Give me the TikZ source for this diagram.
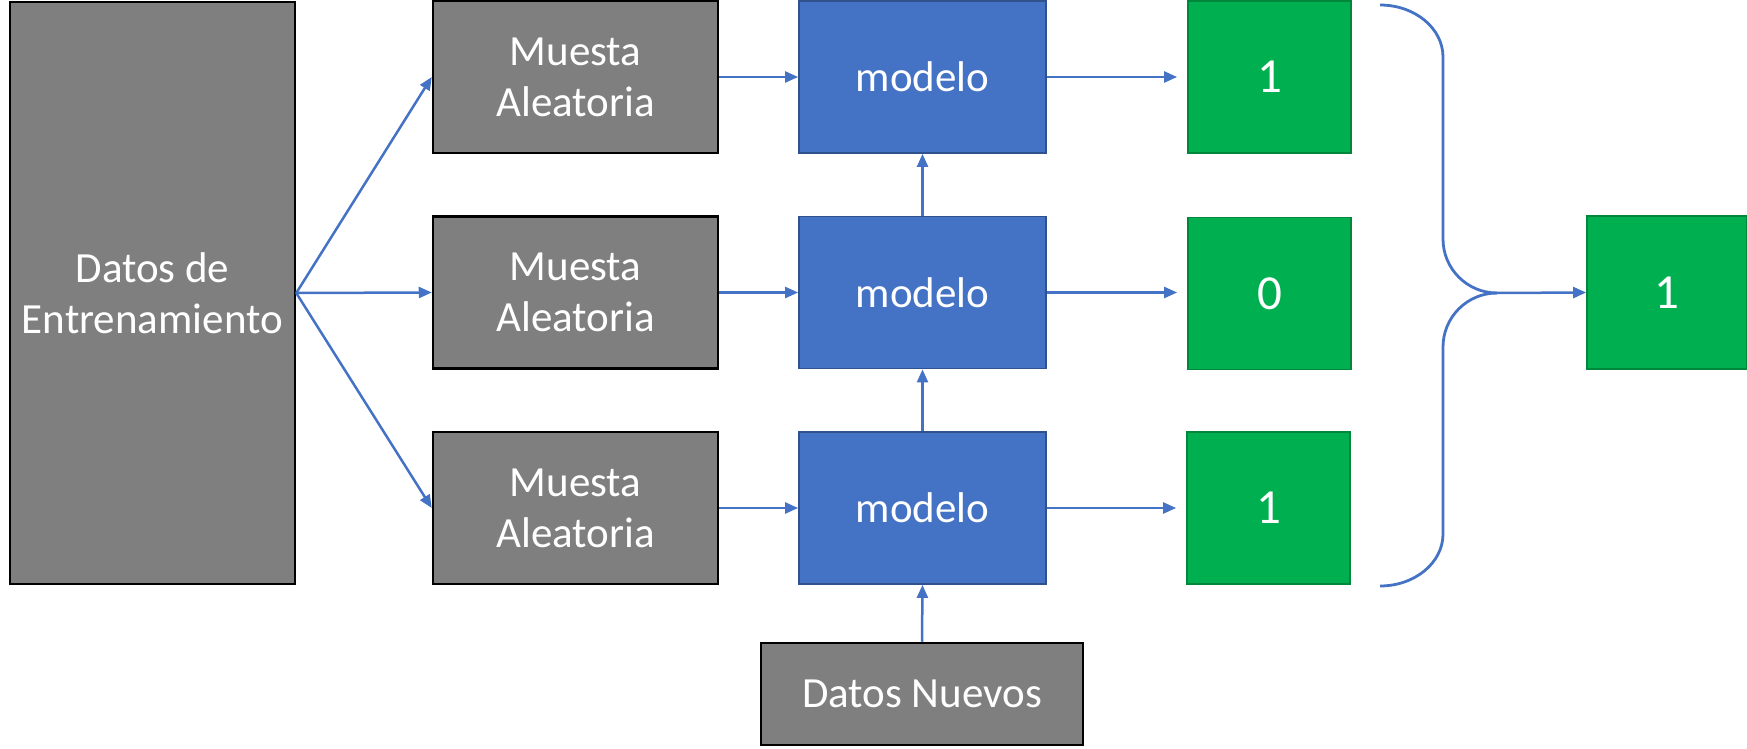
\documentclass[tikz,border=0pt]{standalone}
\usepackage{fontspec}
\setmainfont{Carlito}
\usetikzlibrary{arrows.meta}
\definecolor{grayfill}{HTML}{7F7F7F}
\definecolor{bluefill}{HTML}{4472C4}
\definecolor{blueline}{HTML}{2F528F}
\definecolor{greenfill}{HTML}{00B050}
\definecolor{greenline}{HTML}{00873C}
\definecolor{arrowc}{HTML}{4472C4}
\tikzset{
  x=1pt, y=1pt,
  graybox/.style={rectangle, fill=grayfill, draw=black, line width=2.5pt, inner sep=0pt,
    text=white, align=center, font=\fontsize{43}{51}\selectfont},
  bluebox/.style={rectangle, fill=bluefill, draw=blueline, line width=1.8pt, inner sep=0pt,
    text=white, align=center, font=\fontsize{43}{51}\selectfont,
    minimum width=247pt, minimum height=152pt},
  greenbox/.style={rectangle, fill=greenfill, draw=greenline, line width=1.8pt, inner sep=0pt,
    text=white, align=center, font=\fontsize{49}{58}\selectfont,
    minimum width=163pt, minimum height=152pt},
  muestabox/.style={graybox, minimum width=285pt, minimum height=152pt},
  conn/.style={draw=arrowc, line width=2.5pt, -{Triangle[length=13pt,width=11pt]}},
  bracepath/.style={draw=arrowc, line width=2.8pt},
}
\begin{document}
\begin{tikzpicture}
\useasboundingbox (0,0) rectangle (1747,748);
% training data
\node[graybox, minimum width=285pt, minimum height=582pt] (datos) at (152.5,455) {Datos de\\Entrenamiento};
% random samples
\node[muestabox] (m1) at (575.5,671) {Muesta\\Aleatoria};
\node[muestabox] (m2) at (575.5,455.5) {Muesta\\Aleatoria};
\node[muestabox] (m3) at (575.5,240) {Muesta\\Aleatoria};
% models
\node[bluebox] (mod1) at (922.5,671) {modelo};
\node[bluebox] (mod2) at (922.5,455.5) {modelo};
\node[bluebox] (mod3) at (922.5,240) {modelo};
% predictions
\node[greenbox] (g1) at (1269.5,671) {1};
\node[greenbox] (g2) at (1269.5,454.5) {0};
\node[greenbox] (g3) at (1268.5,240) {1};
% final
\node[greenbox, minimum width=160pt, minimum height=153pt] (fin) at (1667,455.5) {1};
% new data
\node[graybox, minimum width=322pt, minimum height=102pt] (nuevos) at (922,54) {Datos Nuevos};
% connectors
\draw[conn] (datos.east) -- (m1.west);
\draw[conn] (datos.east) -- (m2.west);
\draw[conn] (datos.east) -- (m3.west);
\draw[conn] (m1.east) -- (mod1.west);
\draw[conn] (m2.east) -- (mod2.west);
\draw[conn] (m3.east) -- (mod3.west);
\draw[conn, shorten >=10pt] (mod1.east) -- (g1.west |- mod1.east);
\draw[conn, shorten >=10pt] (mod2.east) -- (g2.west |- mod2.east);
\draw[conn, shorten >=10pt] (mod3.east) -- (g3.west |- mod3.east);
\draw[conn] (mod3.north) -- (mod2.south);
\draw[conn] (mod2.north) -- (mod1.south);
\draw[conn] (nuevos.north) -- (mod3.south);
% brace
\coordinate (btop) at (1380,743);
\coordinate (bbot) at (1380,162);
\coordinate (junc) at (1497,455);
\draw[bracepath] (btop) arc[start angle=90, end angle=0, x radius=63, y radius=52]
  -- (1443,509) arc[start angle=180, end angle=270, radius=54];
\draw[bracepath] (bbot) arc[start angle=270, end angle=360, x radius=63, y radius=52]
  -- (1443,401) arc[start angle=180, end angle=90, radius=54];
\draw[conn] (junc) -- (fin.west);
\end{tikzpicture}
\end{document}
